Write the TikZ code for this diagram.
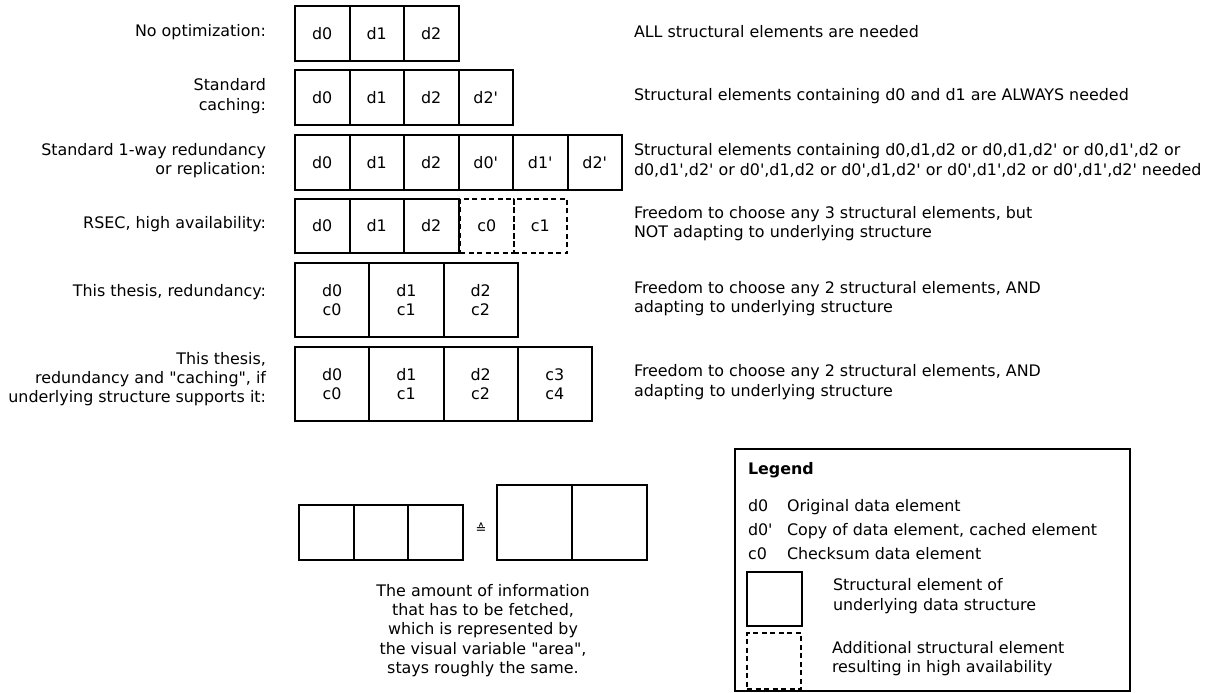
\documentclass[tikz,border=0pt]{standalone}
\usepackage{fontspec}
\setmainfont{DejaVu Sans}[Ligatures=TeXOff]
\begin{document}
\begin{tikzpicture}[x=1pt,y=-1pt,
  every node/.style={font=\fontsize{15.9}{19.3}\selectfont, inner sep=0pt, outer sep=0pt},
  cell/.style={draw, line width=2pt, minimum width=54.5pt, minimum height=54.5pt, align=center},
  dcell/.style={cell, minimum width=53.5pt, dash pattern=on 5pt off 3.5pt},
  bigcell/.style={cell, minimum width=74.25pt, minimum height=74pt},
  lbl/.style={anchor=east, align=right},
  desc/.style={anchor=west, align=left},
  legtext/.style={anchor=base west}]
\useasboundingbox (0,0) rectangle (1218,693);

% left labels
\node[lbl] (l1) at (266,32) {No optimization:};
\node[lbl] (l2) at (266,96) {Standard\\caching:};
\node[lbl] (l3) at (266,160.5) {Standard 1-way redundancy\\or replication:};
\node[lbl] (l4) at (266,224) {RSEC, high availability:};
\node[lbl] (l5) at (266,292) {This thesis, redundancy:};
\node[lbl] (l6) at (266,379) {This thesis,\\redundancy and "caching", if\\underlying structure supports it:};

% row 1
\foreach \t [count=\i] in {d0,d1,d2}
  \node[cell] (a\i) at ({322.25+(\i-1)*54.5},33.5) {\t};
% row 2
\foreach \t [count=\i] in {d0,d1,d2,d2'}
  \node[cell] (b\i) at ({322.25+(\i-1)*54.5},97.5) {\t};
% row 3
\foreach \t [count=\i] in {d0,d1,d2,d0',d1',d2'}
  \node[cell] (c\i) at ({322.25+(\i-1)*54.5},162.5) {\t};
% row 4
\foreach \t [count=\i] in {d0,d1,d2}
  \node[cell] (e\i) at ({322.25+(\i-1)*54.5},226) {\t};
\node[dcell] (e4) at (486.75,226) {c0};
\node[dcell] (e5) at (540.25,226) {c1};
% row 5
\foreach \t [count=\i] in {{d0\\c0},{d1\\c1},{d2\\c2}}
  \node[bigcell] (f\i) at ({332.125+(\i-1)*74.25},300) {\t};
% row 6
\foreach \t [count=\i] in {{d0\\c0},{d1\\c1},{d2\\c2},{c3\\c4}}
  \node[bigcell] (g\i) at ({332.125+(\i-1)*74.25},384) {\t};

% right descriptions
\node[desc] (r1) at (634,32) {ALL structural elements are needed};
\node[desc] (r2) at (634,96) {Structural elements containing d0 and d1 are ALWAYS needed};
\node[desc] (r3) at (634,160.5) {Structural elements containing d0,d1,d2 or d0,d1,d2' or d0,d1',d2 or\\d0,d1',d2' or d0',d1,d2 or d0',d1,d2' or d0',d1',d2 or d0',d1',d2' needed};
\node[desc] (r4) at (634,223.5) {Freedom to choose any 3 structural elements, but\\NOT adapting to underlying structure};
\node[desc] (r5) at (634,298.5) {Freedom to choose any 2 structural elements, AND\\adapting to underlying structure};
\node[desc] (r6) at (634,382) {Freedom to choose any 2 structural elements, AND\\adapting to underlying structure};

% bottom comparison
\foreach \i in {1,2,3}
  \node[cell, minimum width=54.67pt, minimum height=55pt] (s\i) at ({326.33+(\i-1)*54.67},532.5) {};
\foreach \i in {1,2}
  \node[cell, minimum width=75pt, minimum height=75pt] (t\i) at ({534.5+(\i-1)*75},522.5) {};
\node[font=\fontsize{13}{15}\selectfont] (eq) at (481,528) {≙};
\node[align=center] (cap) at (483,630.5) {The amount of information\\that has to be fetched,\\which is represented by\\the visual variable "area",\\stays roughly the same.};

% legend
\node[draw, line width=2pt, minimum width=395pt, minimum height=242pt] (legend) at (932.5,570) {};
\node[legtext, font=\fontsize{15.9}{19.3}\selectfont\bfseries] (lt) at (748,474) {Legend};
\node[legtext] (k1) at (748,511) {d0};
\node[legtext] (v1) at (787,511) {Original data element};
\node[legtext] (k2) at (748,535) {d0'};
\node[legtext] (v2) at (787,535) {Copy of data element, cached element};
\node[legtext] (k3) at (748,559.5) {c0};
\node[legtext] (v3) at (787,559.5) {Checksum data element};
\node[draw, line width=2pt, minimum width=54.5pt, minimum height=54pt] (ks) at (774.5,599) {};
\node[desc] (vs) at (833,596) {Structural element of\\underlying data structure};
\node[draw, line width=2pt, minimum width=54pt, minimum height=56pt, dash pattern=on 5pt off 3.5pt] (kd) at (774,661) {};
\node[desc] (vd) at (832,658.5) {Additional structural element\\resulting in high availability};
\end{tikzpicture}
\end{document}
